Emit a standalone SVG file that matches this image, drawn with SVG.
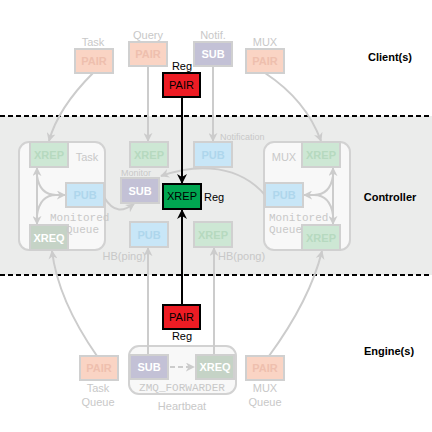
<svg xmlns="http://www.w3.org/2000/svg" width="432" height="432" viewBox="0 0 432 432">
<style>
text{font-family:"Liberation Sans",Arial,sans-serif;font-size:11px}
.lbl{fill:#c8c8c8;text-anchor:middle}
.sm{fill:#c8c8c8;font-size:9px}
.mono{font-family:"Liberation Mono","DejaVu Sans Mono",monospace;fill:#c8c8c8}
.bt{text-anchor:middle;font-weight:bold;font-size:11px}
.bold{font-weight:bold;fill:#000;text-anchor:middle}
.box{stroke:#d0d0d0;stroke-width:2}
.pair{fill:#fad4c4}.pairt{fill:#eebfae}
.xrep{fill:#cde7d4}.xrept{fill:#b6d9bf}
.pub{fill:#c8e6f7}.pubt{fill:#aed6ec}
.sub{fill:#c3c1d6}.subt{fill:#fff}
.xreq{fill:#c5d3c6}.xreqt{fill:#fff}
.grp{fill:#f8f8f8;stroke:#d2d2d2;stroke-width:2}
.con{fill:none;stroke:#cccccc;stroke-width:2}
.blk{fill:none;stroke:#000;stroke-width:2}
.act{stroke:#000;stroke-width:2}
.dash{fill:none;stroke:#000;stroke-width:2;stroke-dasharray:5,3}
</style>
<defs>
<marker id="ag" viewBox="0 0 10 10" refX="9" refY="5" markerWidth="9" markerHeight="9" markerUnits="userSpaceOnUse" orient="auto-start-reverse">
<path d="M0,0 L10,5 L0,10 L3,5 z" fill="#cccccc"/>
</marker>
<marker id="ab" viewBox="0 0 10 10" refX="9" refY="5" markerWidth="10" markerHeight="10" markerUnits="userSpaceOnUse" orient="auto">
<path d="M0,0 L10,5 L0,10 L3,5 z" fill="#000"/>
</marker>
</defs>
<rect x="0" y="116" width="432" height="159" fill="#ebeceb"/>
<line class="dash" x1="0" y1="116" x2="432" y2="116"/>
<line class="dash" x1="0" y1="275" x2="432" y2="275"/>

<g id="groups">
<rect id="task-group" class="grp" x="19" y="142" width="86" height="108" rx="10"/>
<rect id="mux-group" class="grp" x="264" y="142" width="86" height="108" rx="10"/>
<rect id="hb-group" class="grp" x="129" y="346" width="107" height="48" rx="10"/>
</g>

<g id="connectors">
<line class="con" x1="148" y1="66" x2="148" y2="141" marker-end="url(#ag)"/>
<line class="con" x1="213" y1="66" x2="213" y2="141" marker-end="url(#ag)"/>
<path class="con" d="M93,73 Q58,108 49,141" marker-end="url(#ag)"/>
<path class="con" d="M265,73 Q306,100 321,141" marker-end="url(#ag)"/>
<line class="con" x1="37" y1="168" x2="37" y2="224" marker-start="url(#ag)" marker-end="url(#ag)"/>
<path class="con" d="M37,176 Q40,195 56,195"/>
<path class="con" d="M37,215 Q40,195 56,195 L65,195" marker-end="url(#ag)"/>
<line class="con" x1="333" y1="168" x2="333" y2="224" marker-start="url(#ag)" marker-end="url(#ag)"/>
<path class="con" d="M333,176 Q330,195 314,195"/>
<path class="con" d="M333,215 Q330,195 314,195 L304,195" marker-end="url(#ag)"/>
<path class="con" d="M104,197 C114,214 124,211 134,204" marker-end="url(#ag)"/>
<path class="con" d="M265,195 C240,166 200,162 161,176" marker-end="url(#ag)"/>
<line class="con" x1="148" y1="355" x2="148" y2="248" marker-end="url(#ag)"/>
<line class="con" x1="214" y1="355" x2="214" y2="248" marker-end="url(#ag)"/>
<path class="con" d="M97,356 Q58,300 52,251" marker-end="url(#ag)"/>
<path class="con" d="M269,356 Q310,300 322,251" marker-end="url(#ag)"/>
<line class="con" x1="170" y1="367" x2="194" y2="367" stroke-dasharray="5,3" marker-end="url(#ag)"/>
<line class="blk" x1="182" y1="98" x2="182" y2="183" marker-end="url(#ab)"/>
<line class="blk" x1="182" y1="305" x2="182" y2="210" marker-end="url(#ab)"/>
</g>

<g id="task-pair"><rect class="box pair" x="75" y="49" width="38" height="24"/><text class="bt pairt" x="94" y="65">PAIR</text><text class="lbl" x="93" y="46">Task</text></g>
<g id="query-pair"><rect class="box pair" x="129" y="42" width="38" height="24"/><text class="bt pairt" x="148" y="58">PAIR</text><text class="lbl" x="148" y="39">Query</text></g>
<g id="notif-sub"><rect class="box sub" x="194" y="42" width="38" height="24"/><text class="bt subt" x="213" y="58">SUB</text><text class="lbl" x="213" y="39">Notif.</text></g>
<g id="mux-pair"><rect class="box pair" x="246" y="49" width="38" height="24"/><text class="bt pairt" x="265" y="65">PAIR</text><text class="lbl" x="265" y="46">MUX</text></g>
<g id="reg-pair-top"><rect class="act" fill="#ed1c24" x="163" y="73" width="37" height="24"/><text x="181.5" y="89" text-anchor="middle" fill="#000">PAIR</text><text x="182" y="70" text-anchor="middle" fill="#000">Reg</text></g>

<g id="task-xrep"><rect class="box xrep" x="30" y="142" width="38" height="25"/><text class="bt xrept" x="49" y="159">XREP</text><text class="lbl" x="87" y="161">Task</text></g>
<g id="task-pub"><rect class="box pub" x="66" y="183" width="38" height="24"/><text class="bt pubt" x="85" y="199">PUB</text></g>
<g id="task-xreq"><rect class="box xreq" x="30" y="225" width="38" height="25"/><text class="bt xreqt" x="49" y="242">XREQ</text></g>
<text class="mono" x="50" y="221" font-size="9">Monitored</text>
<text class="mono" x="99" y="233" font-size="9" text-anchor="end">Queue</text>

<g id="query-xrep"><rect class="box xrep" x="130" y="142" width="38" height="25"/><text class="bt xrept" x="149" y="159">XREP</text></g>
<g id="notif-pub"><rect class="box pub" x="194" y="142" width="38" height="25"/><text class="bt pubt" x="213" y="159">PUB</text><text class="sm" x="220" y="140">Notification</text></g>
<g id="monitor-sub"><rect class="box sub" x="121" y="178" width="38" height="25"/><text class="bt subt" x="140" y="195">SUB</text><text class="sm" x="121" y="176">Monitor</text></g>
<g id="reg-xrep"><rect class="act" fill="#00a651" x="163" y="184" width="38" height="25"/><text x="182" y="200" text-anchor="middle" fill="#000">XREP</text><text x="204" y="201" fill="#000">Reg</text></g>
<g id="hb-pub"><rect class="box pub" x="130" y="222" width="38" height="25"/><text class="bt pubt" x="149" y="239">PUB</text><text class="lbl" x="146" y="260" text-anchor="end" style="text-anchor:end">HB(ping)</text></g>
<g id="hb-xrep"><rect class="box xrep" x="194" y="222" width="38" height="25"/><text class="bt xrept" x="213" y="239">XREP</text><text class="lbl" x="218" y="260" style="text-anchor:start">HB(pong)</text></g>

<g id="mux-xrep-top"><rect class="box xrep" x="302" y="142" width="38" height="25"/><text class="bt xrept" x="321" y="159">XREP</text><text class="lbl" x="284" y="161">MUX</text></g>
<g id="mux-pub"><rect class="box pub" x="265" y="183" width="38" height="24"/><text class="bt pubt" x="284" y="199">PUB</text></g>
<g id="mux-xrep-bottom"><rect class="box xrep" x="302" y="225" width="38" height="25"/><text class="bt xrept" x="321" y="242">XREP</text></g>
<text class="mono" x="269" y="221" font-size="9">Monitored</text>
<text class="mono" x="269" y="233" font-size="9">Queue</text>

<g id="reg-pair-bottom"><rect class="act" fill="#ed1c24" x="163" y="305" width="37" height="24"/><text x="181.5" y="321" text-anchor="middle" fill="#000">PAIR</text><text x="182" y="340" text-anchor="middle" fill="#000">Reg</text></g>
<g id="task-queue-pair"><rect class="box pair" x="80" y="356" width="38" height="24"/><text class="bt pairt" x="99" y="372">PAIR</text><text class="lbl" x="98" y="392">Task</text><text class="lbl" x="98" y="406">Queue</text></g>
<g id="hb-sub"><rect class="box sub" x="130" y="355" width="38" height="24"/><text class="bt subt" x="149" y="371">SUB</text></g>
<g id="hb-xreq"><rect class="box xreq" x="196" y="355" width="38" height="24"/><text class="bt xreqt" x="215" y="371">XREQ</text></g>
<text class="mono" x="182" y="391" font-size="10.5" text-anchor="middle">ZMQ_FORWARDER</text>
<text class="lbl" x="182" y="410">Heartbeat</text>
<g id="mux-queue-pair"><rect class="box pair" x="246" y="356" width="38" height="24"/><text class="bt pairt" x="265" y="372">PAIR</text><text class="lbl" x="265" y="392">MUX</text><text class="lbl" x="265" y="406">Queue</text></g>

<text class="bold" x="390" y="61">Client(s)</text>
<text class="bold" x="390" y="201">Controller</text>
<text class="bold" x="389" y="355">Engine(s)</text>
</svg>
